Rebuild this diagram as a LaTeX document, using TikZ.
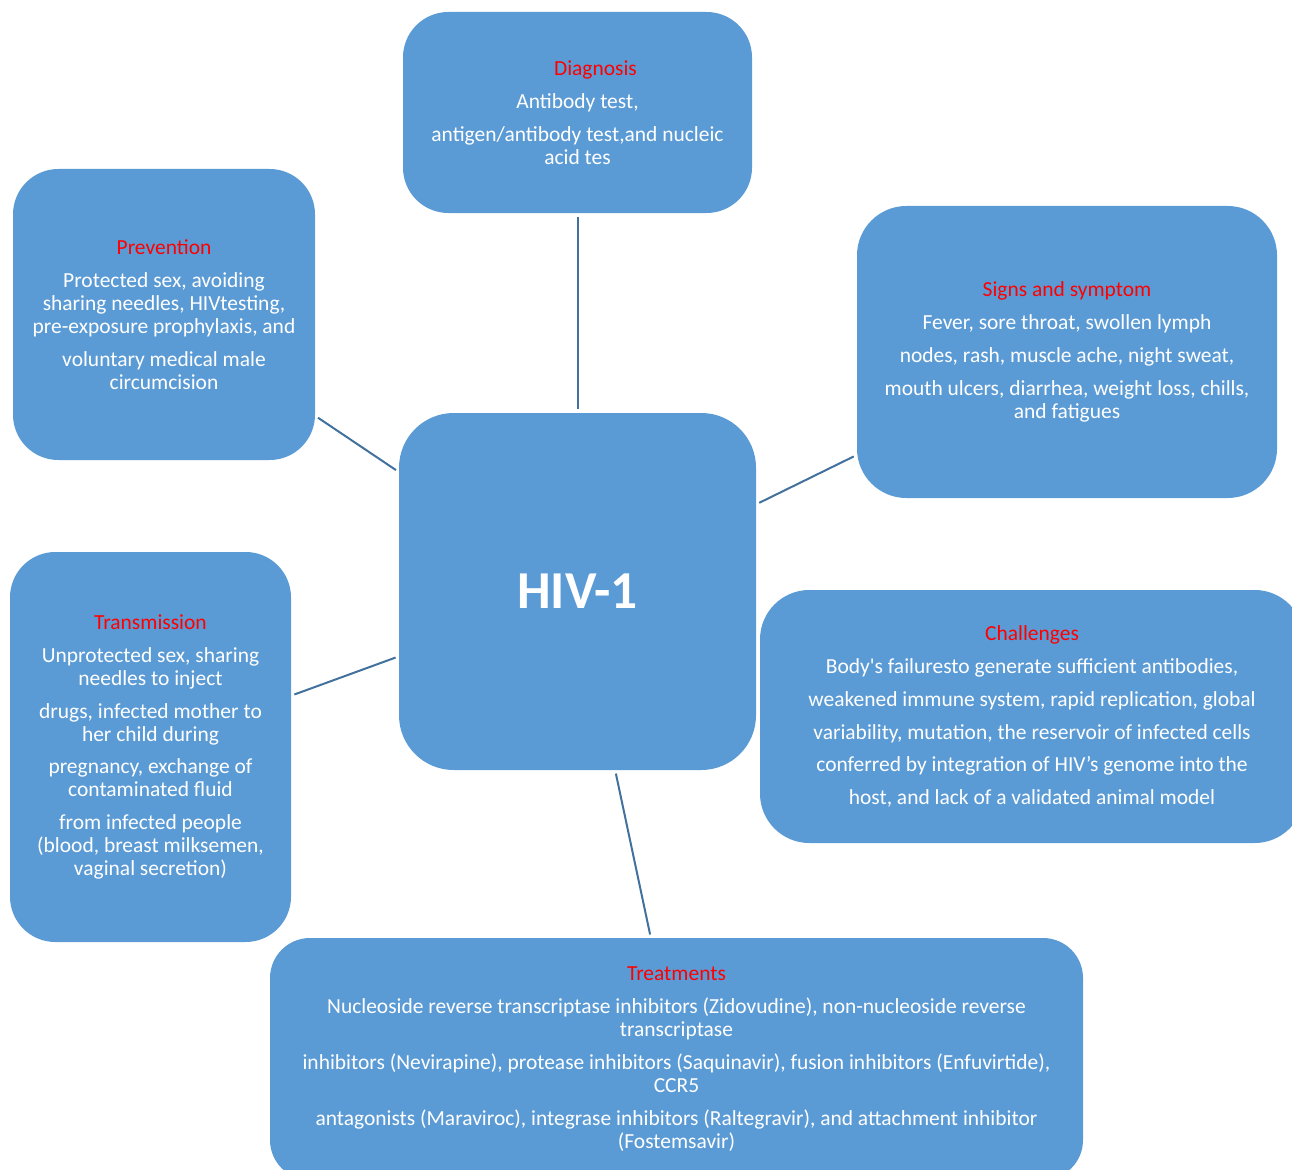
\documentclass[tikz,border=0pt]{standalone}
\usepackage{fontspec}
\setmainfont{Carlito}
\definecolor{boxblue}{RGB}{91,155,213}
\definecolor{linkblue}{RGB}{65,113,156}
\definecolor{titlered}{RGB}{255,0,0}
\newcommand{\ttl}[1]{\textcolor{titlered}{#1}}
\newcommand{\pbr}{\\[7.4pt]}
\tikzset{
  topic/.style={fill=boxblue, draw=none, rounded corners=34pt, align=center,
    text=white, inner sep=0pt, font=\fontsize{16.1}{17.25}\selectfont},
  link/.style={draw=linkblue, line width=1.5pt, shorten >=2.5pt, shorten <=2.5pt}
}
\begin{document}
\begin{tikzpicture}[x=0.75pt,y=0.75pt,yscale=-1,xscale=1]
			\useasboundingbox (0,0) rectangle (1292,1170);
			%Shape: Rounded Rect [centre] 
			\node (hiv) at (577.5,591.5) [topic, rounded corners=41pt, minimum width=267.75pt, minimum height=267.75pt, font=\fontsize{40}{48}\bfseries] {HIV-1};
			%Shape: Rounded Rect [diagnosis] 
			\node (diag) at (577.5,112.5) [topic, minimum width=261.75pt, minimum height=150.75pt] {\hspace*{27pt}\ttl{Diagnosis}\pbr Antibody test,\pbr antigen/antibody test,and nucleic\\ acid tes};
			%Shape: Rounded Rect [prevention] 
			\node (prev) at (164,314.5) [topic, minimum width=226.5pt, minimum height=218.25pt] {\ttl{Prevention}\pbr Protected sex, avoiding\\ sharing needles, HIVtesting,\\ pre-exposure prophylaxis, and\pbr voluntary medical male\\ circumcision};
			%Shape: Rounded Rect [signs] 
			\node (sign) at (1067,352) [topic, rounded corners=37pt, minimum width=315pt, minimum height=219pt] {\ttl{Signs and symptom}\pbr Fever, sore throat, swollen lymph\pbr nodes, rash, muscle ache, night sweat,\pbr mouth ulcers, diarrhea, weight loss, chills,\\ and fatigues};
			%Shape: Rounded Rect [challenges] 
			\node (chal) at (1032,716.5) [topic, rounded corners=37pt, minimum width=408pt, minimum height=189.75pt] {\ttl{Challenges}\pbr Body\textquotesingle s failuresto generate sufficient antibodies,\pbr weakened immune system, rapid replication, global\pbr variability, mutation, the reservoir of infected cells\pbr conferred by integration of HIV’s genome into the\pbr host, and lack of a validated animal model};
			%Shape: Rounded Rect [transmission] 
			\node (trans) at (150.5,747) [topic, minimum width=210.75pt, minimum height=292.5pt] {\ttl{Transmission}\pbr Unprotected sex, sharing\\ needles to inject\pbr drugs, infected mother to\\ her child during\pbr pregnancy, exchange of\\ contaminated fluid\pbr from infected people\\ (blood, breast milksemen,\\ vaginal secretion)};
			%Shape: Rounded Rect [treatments] 
			\node (treat) at (676.5,1059) [topic, rounded corners=30pt, minimum width=609.75pt, minimum height=181.5pt] {\ttl{Treatments}\pbr Nucleoside reverse transcriptase inhibitors (Zidovudine), non-nucleoside reverse\\ transcriptase\pbr inhibitors (Nevirapine), protease inhibitors (Saquinavir), fusion inhibitors (Enfuvirtide),\\ CCR5\pbr antagonists (Maraviroc), integrase inhibitors (Raltegravir), and attachment inhibitor\\ (Fostemsavir)};
			%Straight Lines [spokes] 
			\draw [link] (diag) -- (hiv) ;
			\draw [link] (prev) -- (hiv) ;
			\draw [link] (sign) -- (hiv) ;
			\draw [link] (trans) -- (hiv) ;
			\draw [link] (treat) -- (hiv) ;
\end{tikzpicture}
\end{document}
